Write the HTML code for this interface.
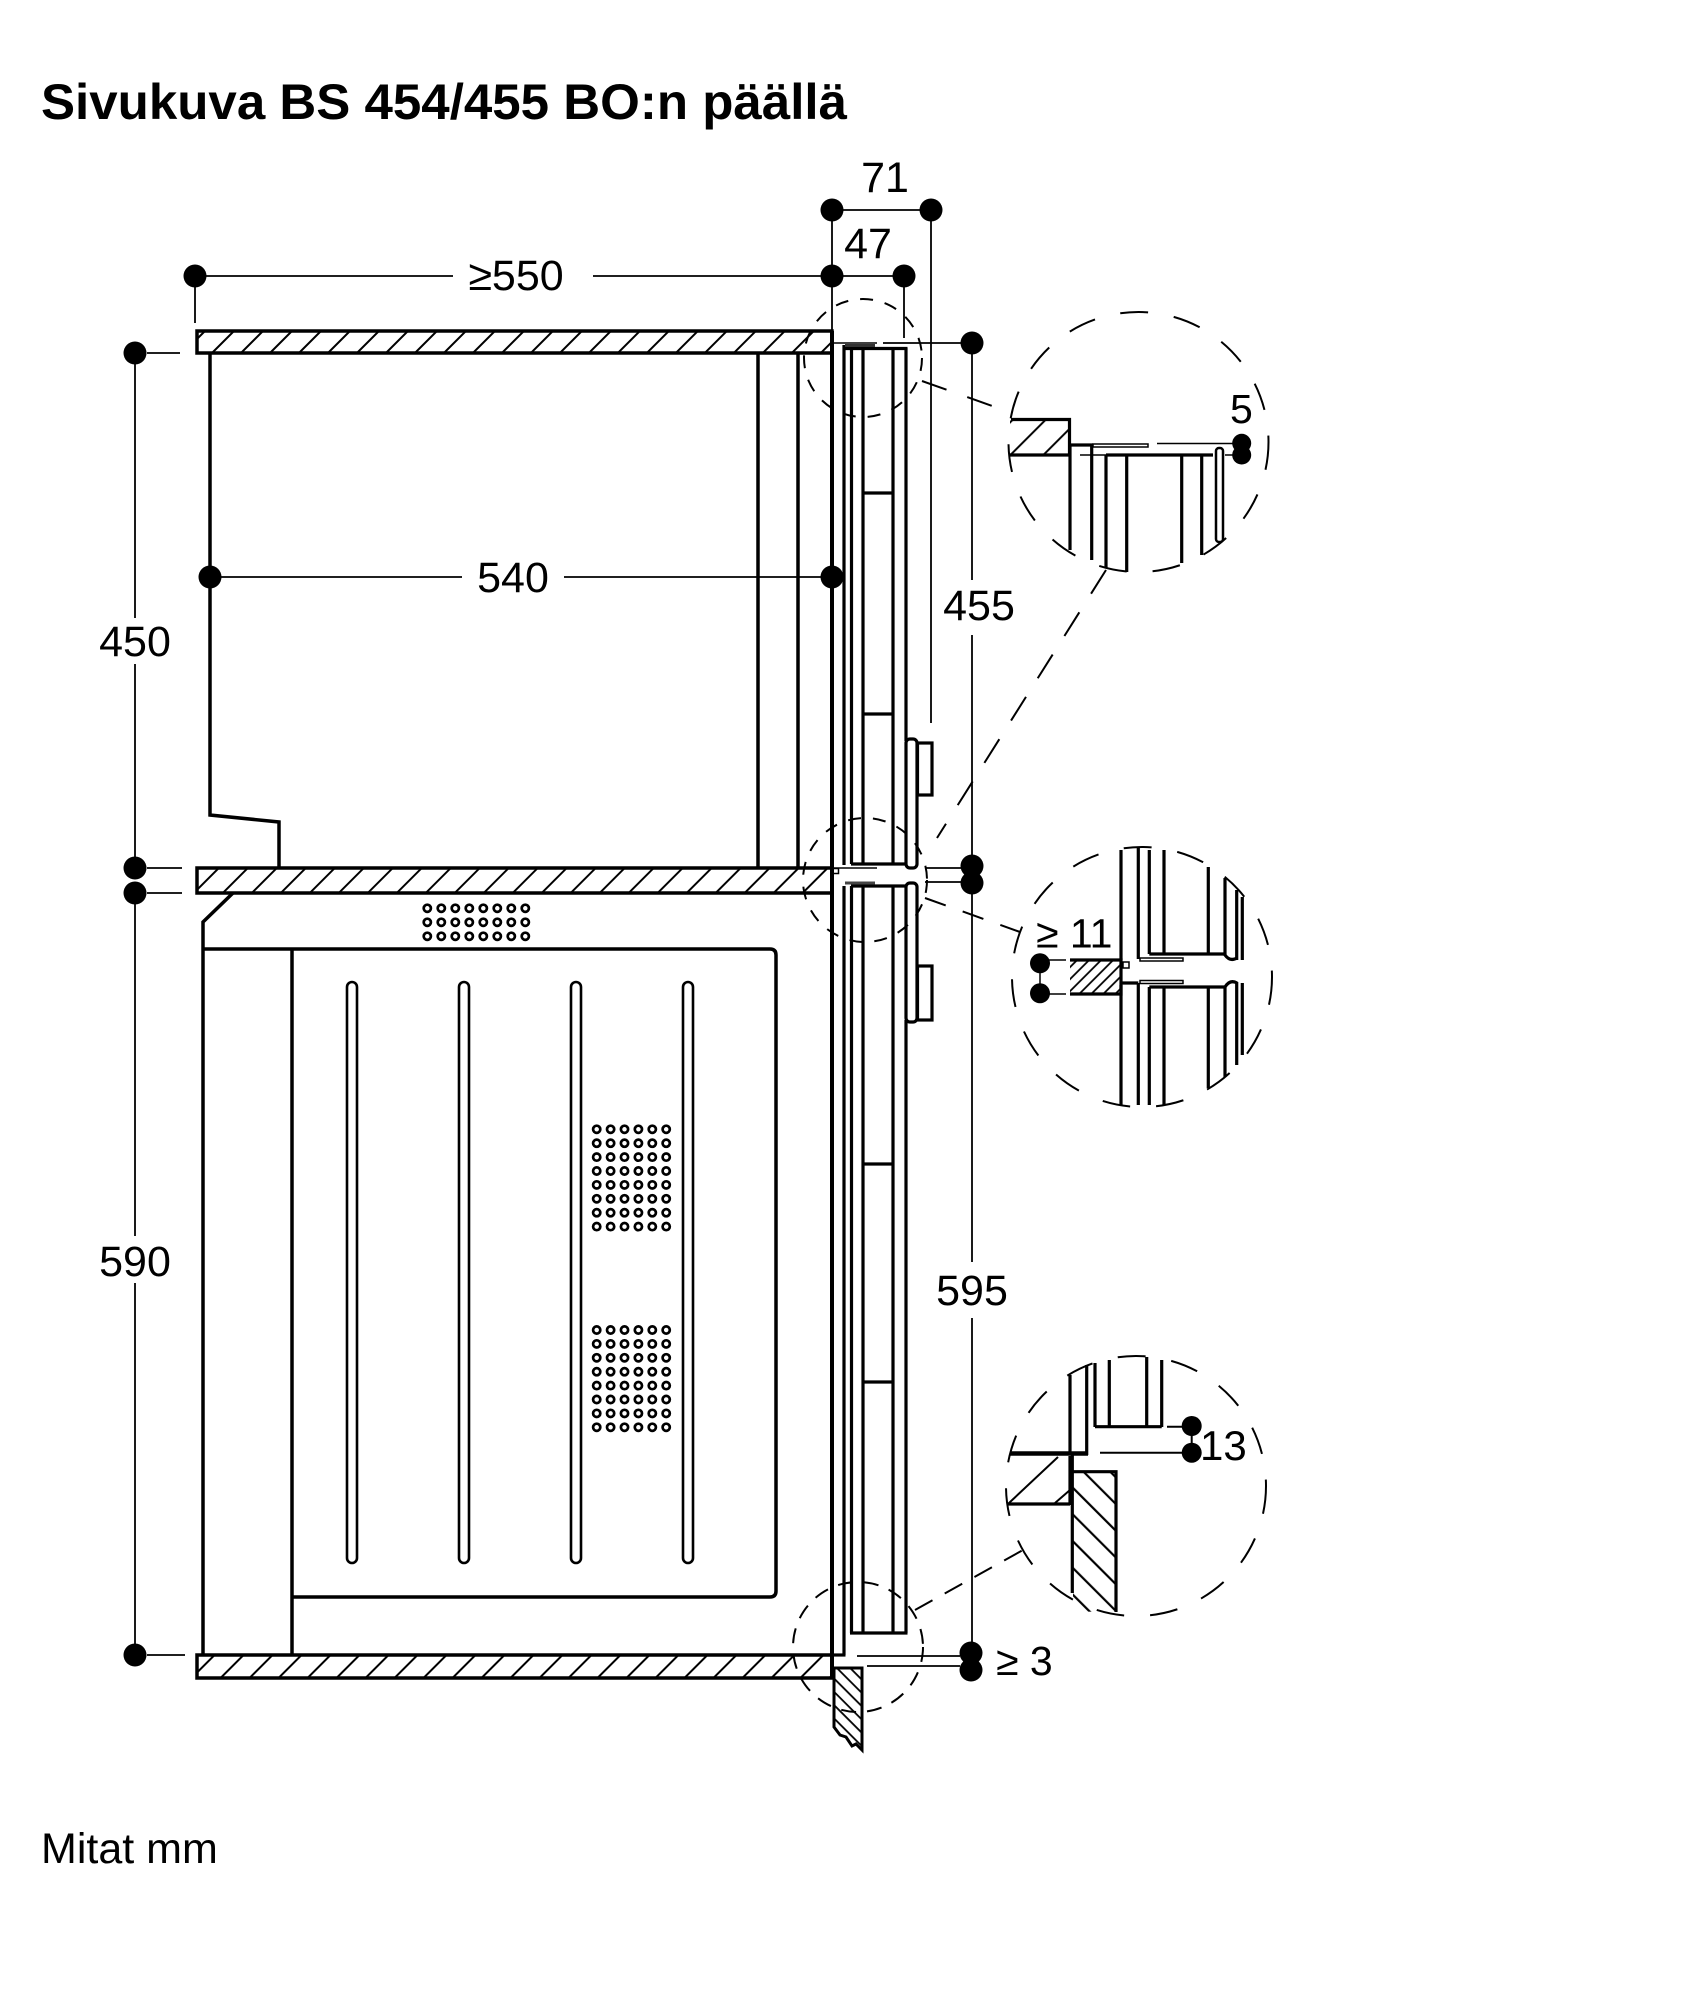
<!DOCTYPE html>
<html><head><meta charset="utf-8">
<style>
html,body{margin:0;padding:0;background:#fff;}
svg{display:block;}
text{font-family:"Liberation Sans",Arial,sans-serif;fill:#000;stroke:none;}
</style></head><body>
<svg width="1684" height="2000" viewBox="0 0 1684 2000" xmlns="http://www.w3.org/2000/svg">
<defs>
<pattern id="hs" width="20.5" height="20.5" patternUnits="userSpaceOnUse" patternTransform="rotate(45)">
<line x1="10" y1="-1" x2="10" y2="22" stroke="#000" stroke-width="2"/>
</pattern>
<pattern id="hb" width="23.3" height="23.3" patternUnits="userSpaceOnUse" patternTransform="rotate(45)">
<line x1="11" y1="-1" x2="11" y2="25" stroke="#000" stroke-width="2"/>
</pattern>
<pattern id="hm" width="8.5" height="8.5" patternUnits="userSpaceOnUse" patternTransform="rotate(45)">
<line x1="4" y1="-1" x2="4" y2="10" stroke="#000" stroke-width="1.8"/>
</pattern>
<pattern id="hbs" width="18.9" height="18.9" patternUnits="userSpaceOnUse" patternTransform="rotate(-45)">
<line x1="9" y1="-1" x2="9" y2="20" stroke="#000" stroke-width="2.2"/>
</pattern>
<pattern id="hp" width="9.4" height="9.4" patternUnits="userSpaceOnUse" patternTransform="rotate(-45)">
<line x1="4.5" y1="-1" x2="4.5" y2="11" stroke="#000" stroke-width="1.8"/>
</pattern>
</defs>

<!-- Title -->
<text x="41" y="119" font-size="50" font-weight="bold" textLength="806" lengthAdjust="spacingAndGlyphs">Sivukuva BS 454/455 BO:n päällä</text>
<text x="41" y="1863" font-size="43">Mitat mm</text>

<!-- Shelves -->
<g stroke="#000" stroke-width="3.5">
<rect x="197" y="331" width="635" height="22" fill="url(#hs)"/>
<rect x="197" y="868" width="635" height="25" fill="url(#hs)"/>
<rect x="197" y="1655" width="635" height="23" fill="url(#hs)"/>
</g>

<g stroke="#000" fill="none" stroke-width="3.5">
<!-- Upper appliance -->
<polyline points="210,353 210,815 279,822 279,868"/>
<line x1="758" y1="353" x2="758" y2="868"/>
<line x1="798" y1="353" x2="798" y2="868"/>

<!-- Lower oven -->
<polyline points="233,893 203,922 203,1655"/>
<path d="M203,949 L770,949 Q776,949 776,955 L776,1591 Q776,1597 770,1597 L292,1597"/>
<line x1="292" y1="949" x2="292" y2="1655"/>
</g>

<!-- Oven slots -->
<g stroke="#000" fill="none" stroke-width="2.6">
<rect x="347" y="982" width="10" height="581" rx="5"/>
<rect x="459" y="982" width="10" height="581" rx="5"/>
<rect x="571" y="982" width="10" height="581" rx="5"/>
<rect x="683" y="982" width="10" height="581" rx="5"/>
</g>

<!-- Vent holes -->
<g stroke="#000" fill="none" stroke-width="2.7">
<g id="vrow8">
<circle cx="427.3" cy="908.3" r="3.6"/><circle cx="441.3" cy="908.3" r="3.6"/><circle cx="455.3" cy="908.3" r="3.6"/><circle cx="469.3" cy="908.3" r="3.6"/><circle cx="483.3" cy="908.3" r="3.6"/><circle cx="497.3" cy="908.3" r="3.6"/><circle cx="511.3" cy="908.3" r="3.6"/><circle cx="525.3" cy="908.3" r="3.6"/>
</g>
<use href="#vrow8" y="14"/>
<use href="#vrow8" y="28"/>
<g id="vrow6">
<circle cx="596.7" cy="1129.3" r="3.6"/><circle cx="610.6" cy="1129.3" r="3.6"/><circle cx="624.5" cy="1129.3" r="3.6"/><circle cx="638.4" cy="1129.3" r="3.6"/><circle cx="652.3" cy="1129.3" r="3.6"/><circle cx="666.2" cy="1129.3" r="3.6"/>
</g>
<use href="#vrow6" y="13.9"/><use href="#vrow6" y="27.8"/><use href="#vrow6" y="41.7"/><use href="#vrow6" y="55.6"/><use href="#vrow6" y="69.5"/><use href="#vrow6" y="83.4"/><use href="#vrow6" y="97.3"/>
<use href="#vrow6" y="200.7"/><use href="#vrow6" y="214.6"/><use href="#vrow6" y="228.5"/><use href="#vrow6" y="242.4"/><use href="#vrow6" y="256.3"/><use href="#vrow6" y="270.2"/><use href="#vrow6" y="284.1"/><use href="#vrow6" y="298"/>
</g>

<!-- Door column -->
<g stroke="#000" fill="none" stroke-width="3.2">
<line x1="832" y1="331" x2="832" y2="1679" stroke-width="4"/>
<!-- upper door -->
<line x1="844" y1="345" x2="844" y2="865"/>
<line x1="851.5" y1="348" x2="851.5" y2="864"/>
<line x1="863" y1="348" x2="863" y2="864"/>
<line x1="893" y1="348" x2="893" y2="864"/>
<line x1="906" y1="348" x2="906" y2="741"/>
<line x1="843" y1="348.5" x2="907.5" y2="348.5"/>
<line x1="851" y1="864" x2="907" y2="864"/>
<line x1="863" y1="493" x2="893" y2="493"/>
<line x1="863" y1="714" x2="893" y2="714"/>
<rect x="906" y="739" width="11" height="129" rx="4"/>
<rect x="917.5" y="743" width="14.5" height="52"/>
<!-- lower door -->
<line x1="844" y1="886" x2="844" y2="1655"/>
<line x1="832" y1="1655" x2="845.5" y2="1655"/>
<line x1="851.5" y1="886" x2="851.5" y2="1633"/>
<line x1="863" y1="886" x2="863" y2="1633"/>
<line x1="893" y1="886" x2="893" y2="1633"/>
<line x1="906" y1="1020" x2="906" y2="1633"/>
<line x1="851" y1="886" x2="907" y2="886"/>
<line x1="850" y1="1633" x2="907.5" y2="1633"/>
<line x1="863" y1="1164" x2="893" y2="1164"/>
<line x1="863" y1="1382" x2="893" y2="1382"/>
<rect x="906" y="883" width="11" height="139" rx="4"/>
<rect x="917.5" y="966" width="14.5" height="54"/>
</g>
<g stroke="#000" fill="none">
<line x1="833" y1="343" x2="877" y2="343" stroke-width="1.5"/>
<line x1="845" y1="345.5" x2="875" y2="345.5" stroke-width="3" stroke="#333"/>
<line x1="833" y1="868" x2="877" y2="868" stroke-width="1.5"/>
<line x1="845" y1="883" x2="875" y2="883" stroke-width="3" stroke="#444"/>
<rect x="833" y="868.5" width="5.5" height="5" stroke-width="1.5"/>
</g>

<!-- Plinth -->
<path d="M834,1668 L862,1668 L862,1750 L856,1744 L852,1746 L846,1737 L840,1735 L834,1727 Z" fill="url(#hp)" stroke="#000" stroke-width="3"/>

<!-- Dimension lines -->
<g stroke="#000" stroke-width="1.8" fill="none">
<line x1="195" y1="276" x2="453" y2="276"/>
<line x1="593" y1="276" x2="832" y2="276"/>
<line x1="195" y1="276" x2="195" y2="323"/>
<line x1="832" y1="210" x2="931" y2="210"/>
<line x1="832" y1="276" x2="904" y2="276"/>
<line x1="832" y1="210" x2="832" y2="331"/>
<line x1="904" y1="276" x2="904" y2="338"/>
<line x1="931" y1="210" x2="931" y2="723"/>
<line x1="135" y1="353" x2="135" y2="618"/>
<line x1="135" y1="664" x2="135" y2="868"/>
<line x1="135" y1="893" x2="135" y2="1236"/>
<line x1="135" y1="1283" x2="135" y2="1655"/>
<line x1="147" y1="353" x2="180" y2="353"/>
<line x1="147" y1="868" x2="182" y2="868"/>
<line x1="147" y1="893" x2="182" y2="893"/>
<line x1="147" y1="1655" x2="185" y2="1655"/>
<line x1="210" y1="577" x2="462" y2="577"/>
<line x1="564" y1="577" x2="832" y2="577"/>
<line x1="883" y1="343" x2="962" y2="343"/>
<line x1="972" y1="343" x2="972" y2="580"/>
<line x1="972" y1="635" x2="972" y2="866"/>
<line x1="925" y1="868" x2="962" y2="868"/>
<line x1="925" y1="882" x2="962" y2="882"/>
<line x1="972" y1="883" x2="972" y2="1262"/>
<line x1="972" y1="1318" x2="972" y2="1653"/>
<line x1="857" y1="1656" x2="960" y2="1656"/>
<line x1="867" y1="1666" x2="960" y2="1666"/>
</g>
<g fill="#000">
<circle cx="195" cy="276" r="11.5"/><circle cx="832" cy="276" r="11.5"/>
<circle cx="832" cy="210" r="11.5"/><circle cx="931" cy="210" r="11.5"/>
<circle cx="904" cy="276" r="11.5"/>
<circle cx="135" cy="353" r="11.5"/><circle cx="135" cy="868" r="11.5"/>
<circle cx="135" cy="893" r="11.5"/><circle cx="135" cy="1655" r="11.5"/>
<circle cx="210" cy="577" r="11.5"/><circle cx="832" cy="577" r="11.5"/>
<circle cx="972" cy="343" r="11.5"/>
<circle cx="972" cy="866" r="11.5"/><circle cx="972" cy="883" r="11.5"/>
<circle cx="971" cy="1653" r="11.5"/><circle cx="971" cy="1670" r="11.5"/>
</g>
<g font-size="43" text-anchor="middle">
<text x="516" y="290">≥550</text>
<text x="885" y="192">71</text>
<text x="868" y="258">47</text>
<text x="135" y="656">450</text>
<text x="135" y="1276">590</text>
<text x="513" y="592">540</text>
<text x="979" y="620">455</text>
<text x="972" y="1305">595</text>
</g>
<text x="996" y="1675" font-size="41">≥ 3</text>

<!-- Dashed circles & connectors -->
<g stroke="#000" fill="none" stroke-width="2">
<circle cx="1138.5" cy="442" r="130" stroke-dasharray="28 26"/>
<circle cx="1142" cy="977" r="130" stroke-dasharray="28 26"/>
<circle cx="1136" cy="1486" r="130" stroke-dasharray="28 26"/>
<circle cx="863" cy="358" r="59" stroke-dasharray="13 12"/>
<circle cx="865" cy="880" r="62" stroke-dasharray="13 12"/>
<circle cx="858" cy="1647" r="65" stroke-dasharray="15 11"/>
<line x1="922" y1="381" x2="1012" y2="413" stroke-dasharray="26 22"/>
<line x1="1106" y1="570" x2="937" y2="838" stroke-dasharray="28 22"/>
<line x1="925" y1="898" x2="1020" y2="932" stroke-dasharray="22 18"/>
<line x1="915" y1="1610" x2="1023" y2="1550" stroke-dasharray="20 14"/>
</g>

<!-- Detail top -->
<rect x="1010" y="419.5" width="59.5" height="35.5" fill="url(#hb)"/>
<g stroke="#000" fill="none" stroke-width="3.2">
<polyline points="1011,419.5 1069.5,419.5 1069.5,455 1009,455"/>
<line x1="1069" y1="445" x2="1093" y2="445"/>
<line x1="1106" y1="455" x2="1213" y2="455"/>
<line x1="1070" y1="445" x2="1070" y2="550"/>
<line x1="1091.7" y1="445" x2="1091.7" y2="560"/>
<line x1="1106" y1="455" x2="1106" y2="568"/>
<line x1="1126.7" y1="455" x2="1126.7" y2="572"/>
<line x1="1181.7" y1="455" x2="1181.7" y2="563"/>
<line x1="1201.7" y1="455" x2="1201.7" y2="555"/>
<rect x="1216" y="448" width="7" height="94" rx="3" stroke-width="2.5"/>
</g>
<g stroke="#000" fill="none" stroke-width="1.5">
<rect x="1093" y="444" width="55" height="3"/>
<line x1="1157" y1="443.5" x2="1235" y2="443.5"/>
<line x1="1080" y1="455" x2="1106" y2="455"/>
<line x1="1225" y1="455" x2="1238" y2="455"/>
</g>
<g fill="#000"><circle cx="1241.7" cy="443.3" r="9.5"/><circle cx="1241.7" cy="455" r="9.5"/></g>
<text x="1230" y="423" font-size="41">5</text>

<!-- Detail middle -->
<rect x="1070" y="960" width="51" height="34" fill="url(#hm)"/>
<g stroke="#000" fill="none" stroke-width="3.2">
<polyline points="1070,960 1121,960 1121,994 1070,994"/>
<line x1="1121" y1="850" x2="1121" y2="960"/>
<line x1="1121" y1="985" x2="1121" y2="1105"/>
<line x1="1138.3" y1="848" x2="1138.3" y2="959"/>
<line x1="1138.3" y1="983" x2="1138.3" y2="1105"/>
<line x1="1121" y1="983" x2="1138.3" y2="983"/>
<line x1="1149.3" y1="850" x2="1149.3" y2="954"/>
<line x1="1164" y1="850" x2="1164" y2="954"/>
<line x1="1208.3" y1="867" x2="1208.3" y2="954"/>
<line x1="1149.3" y1="954" x2="1226" y2="954"/>
<path d="M1225,878 L1225,955 Q1230,962 1237,958"/>
<line x1="1236.7" y1="890" x2="1236.7" y2="960"/>
<line x1="1242.3" y1="897" x2="1242.3" y2="960"/>
<line x1="1149.3" y1="987" x2="1149.3" y2="1105"/>
<line x1="1164" y1="987" x2="1164" y2="1105"/>
<line x1="1208.3" y1="987" x2="1208.3" y2="1088"/>
<line x1="1149.3" y1="987" x2="1226" y2="987"/>
<path d="M1225,1077 L1225,987 Q1230,979 1237,983"/>
<line x1="1236.7" y1="982" x2="1236.7" y2="1065"/>
<line x1="1242.3" y1="983" x2="1242.3" y2="1055"/>
</g>
<g stroke="#000" fill="none" stroke-width="1.5">
<rect x="1140" y="958" width="43" height="3"/>
<rect x="1140" y="980.5" width="43" height="3"/>
<rect x="1123" y="962" width="6" height="6"/>
<line x1="1040" y1="963" x2="1040" y2="993"/>
<line x1="1048" y1="960" x2="1066" y2="960"/>
<line x1="1048" y1="994" x2="1066" y2="994"/>
</g>
<g fill="#000"><circle cx="1040" cy="963.3" r="10"/><circle cx="1040" cy="993.3" r="10"/></g>
<text x="1036" y="947.5" font-size="41">≥ 11</text>

<!-- Detail bottom -->
<rect x="1073" y="1471.7" width="43" height="140" fill="url(#hbs)"/>
<g stroke="#000" fill="none" stroke-width="3.2">
<line x1="1070" y1="1375" x2="1070" y2="1455"/>
<line x1="1086.7" y1="1365" x2="1086.7" y2="1455"/>
<line x1="1095" y1="1363" x2="1095" y2="1427"/>
<line x1="1109.3" y1="1360" x2="1109.3" y2="1427"/>
<line x1="1146.7" y1="1357" x2="1146.7" y2="1427"/>
<line x1="1161.7" y1="1360" x2="1161.7" y2="1427"/>
<line x1="1095" y1="1426.7" x2="1161.7" y2="1426.7"/>
<line x1="1010" y1="1453.5" x2="1088" y2="1453.5" stroke-width="4.5"/>
<line x1="1070" y1="1456" x2="1070" y2="1505"/>
<line x1="1008" y1="1504" x2="1070" y2="1504"/>
<line x1="1072.3" y1="1455" x2="1072.3" y2="1593"/>
<polyline points="1072.3,1471.7 1116,1471.7 1116,1612"/>
</g>
<g stroke="#000" fill="none" stroke-width="2">
<line x1="1009" y1="1503" x2="1058" y2="1457"/>
<line x1="1055" y1="1503" x2="1070" y2="1490"/>
<line x1="1167" y1="1426.7" x2="1184" y2="1426.7"/>
<line x1="1100" y1="1452.7" x2="1184" y2="1452.7"/>
<line x1="1191.7" y1="1426" x2="1191.7" y2="1452.7"/>
</g>
<g fill="#000"><circle cx="1191.7" cy="1426" r="10"/><circle cx="1191.7" cy="1452.7" r="10"/></g>
<text x="1200" y="1460" font-size="42">13</text>

</svg>
</body></html>
